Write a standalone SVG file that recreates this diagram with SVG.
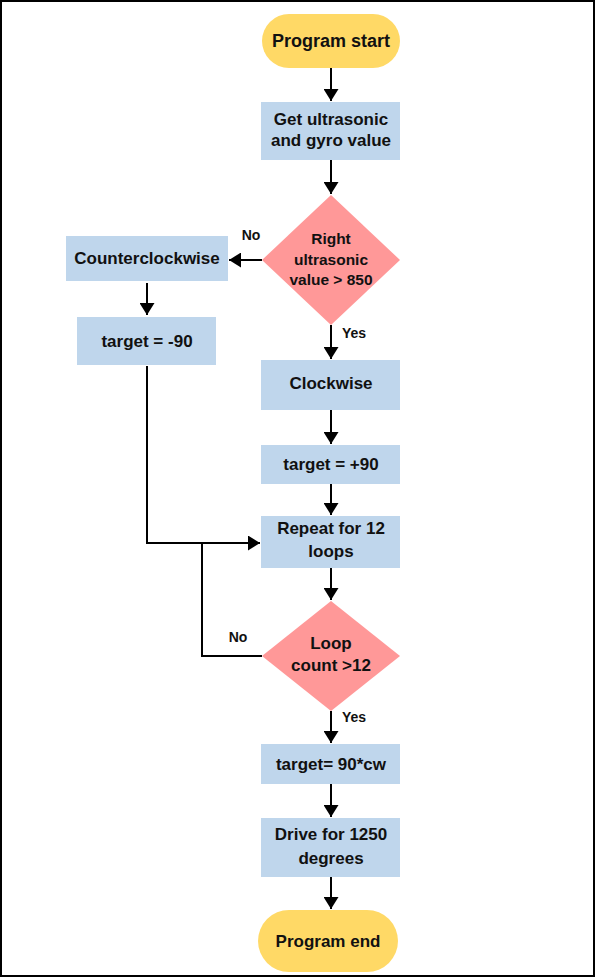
<svg xmlns="http://www.w3.org/2000/svg" width="596" height="978" viewBox="0 0 596 978">
<style>
text{font-family:"Liberation Sans",Arial,sans-serif;font-weight:bold;fill:#111;text-anchor:middle}
.t{font-size:17px}
.s{font-size:18px}
.e{font-size:17px}
.d{font-size:15.5px}
.l{font-size:14px}
.box{fill:#BFD6EC}
.dia{fill:#FF9898}
.term{fill:#FFD966}
.c{stroke:#000;stroke-width:2;fill:none}
</style>
<defs>
<marker id="ah" viewBox="0 0 10 10" refX="10" refY="5" markerWidth="6" markerHeight="7.5" markerUnits="strokeWidth" orient="auto" preserveAspectRatio="none">
<path d="M0,0 L10,5 L0,10 Z" fill="#000"/>
</marker>
</defs>
<rect x="1" y="1" width="593" height="975" fill="#fff" stroke="#000" stroke-width="2"/>
<g id="connectors">
<path class="c" d="M331,68 V101" marker-end="url(#ah)"/>
<path class="c" d="M331,160 V194" marker-end="url(#ah)"/>
<path class="c" d="M262,260 H229" marker-end="url(#ah)"/>
<path class="c" d="M147,283 V315" marker-end="url(#ah)"/>
<path class="c" d="M331,325 V359" marker-end="url(#ah)"/>
<path class="c" d="M331,410 V444" marker-end="url(#ah)"/>
<path class="c" d="M331,484 V515" marker-end="url(#ah)"/>
<path class="c" d="M147,366 V543 H260" marker-end="url(#ah)"/>
<path class="c" d="M331,568 V600" marker-end="url(#ah)"/>
<path class="c" d="M262,656 H202 V543"/>
<path class="c" d="M331,711 V743" marker-end="url(#ah)"/>
<path class="c" d="M331,784 V817" marker-end="url(#ah)"/>
<path class="c" d="M331,877 V909" marker-end="url(#ah)"/>
<text class="l" x="251" y="240">No</text>
<text class="l" x="354" y="338">Yes</text>
<text class="l" x="238" y="642">No</text>
<text class="l" x="354" y="722">Yes</text>
</g>
<g id="start">
<rect class="term" x="262" y="14" width="138" height="54" rx="27"/>
<text class="s" x="331" y="47">Program start</text>
</g>
<g id="get">
<rect class="box" x="261" y="102" width="139" height="58"/>
<text class="t" x="331" y="125">Get ultrasonic</text>
<text class="t" x="331" y="146">and gyro value</text>
</g>
<g id="dec1">
<polygon class="dia" points="331,195 400,260 331,325 262,260"/>
<text class="d" x="331" y="244">Right</text>
<text class="d" x="331" y="265">ultrasonic</text>
<text class="d" x="331" y="285">value &gt; 850</text>
</g>
<g id="ccw">
<rect class="box" x="66" y="236" width="162" height="45"/>
<text class="t" x="147" y="264">Counterclockwise</text>
</g>
<g id="tm90">
<rect class="box" x="77" y="317" width="139" height="48"/>
<text class="t" x="147" y="347">target = -90</text>
</g>
<g id="cw">
<rect class="box" x="261" y="360" width="139" height="50"/>
<text class="t" x="331" y="389">Clockwise</text>
</g>
<g id="tp90">
<rect class="box" x="261" y="445" width="139" height="39"/>
<text class="t" x="331" y="470">target = +90</text>
</g>
<g id="repeat">
<rect class="box" x="261" y="516" width="139" height="52"/>
<text class="t" x="331" y="534">Repeat for 12</text>
<text class="t" x="331" y="557">loops</text>
</g>
<g id="dec2">
<polygon class="dia" points="331,601 400,656 331,711 262,656"/>
<text class="t" x="331" y="649">Loop</text>
<text class="t" x="331" y="671">count &gt;12</text>
</g>
<g id="t90cw">
<rect class="box" x="261" y="744" width="139" height="40"/>
<text class="t" x="331" y="770">target= 90*cw</text>
</g>
<g id="drive">
<rect class="box" x="261" y="818" width="139" height="59"/>
<text class="t" x="331" y="840">Drive for 1250</text>
<text class="t" x="331" y="864">degrees</text>
</g>
<g id="end">
<rect class="term" x="258" y="910" width="140" height="62" rx="31"/>
<text class="e" x="328" y="947">Program end</text>
</g>
</svg>
